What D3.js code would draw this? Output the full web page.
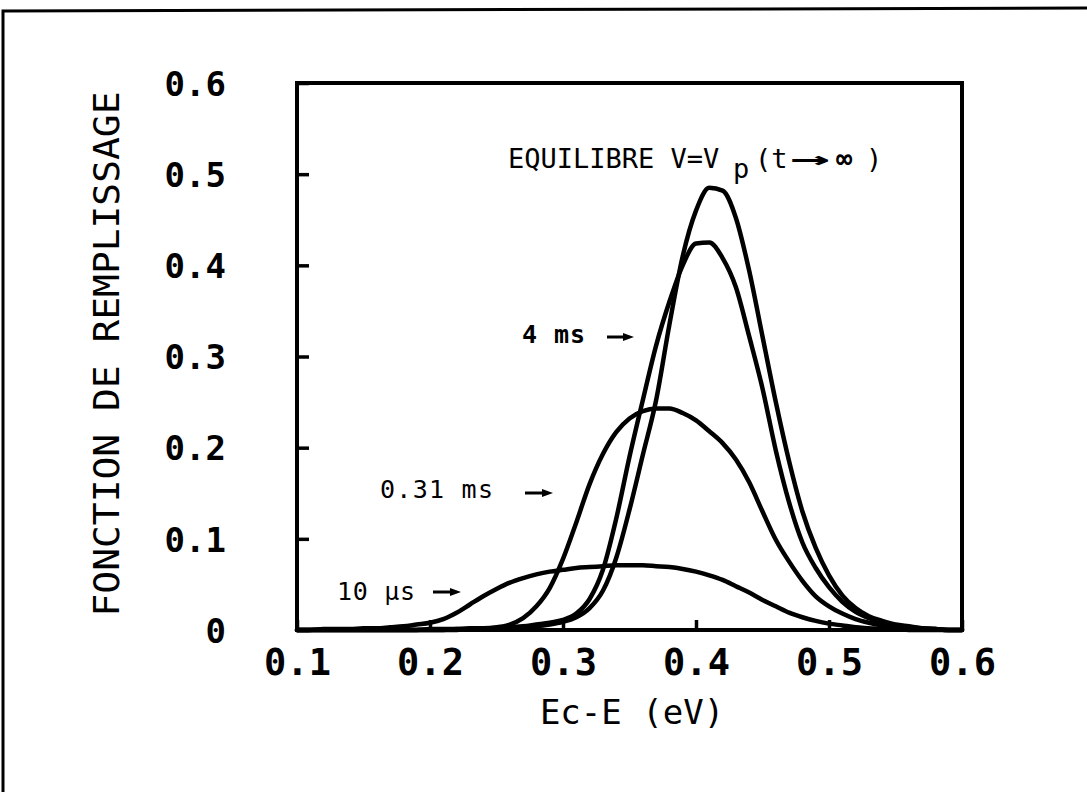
<!DOCTYPE html>
<html>
<head>
<meta charset="utf-8">
<script src="https://cdn.jsdelivr.net/npm/d3@7"></script>
<style>
  html, body { margin: 0; padding: 0; background: #fff; }
  svg { display: block; }
</style>
</head>
<body>
<svg id="chart" width="1087" height="792"></svg>
<script>
// Energy below the conduction band, Ec-E (eV)
const energy = [
  0.10,0.11,0.12,0.13,0.14,0.15,0.16,0.17,0.18,0.19,
  0.20,0.21,0.22,0.23,0.24,0.25,0.26,0.27,0.28,0.29,
  0.30,0.31,0.32,0.33,0.34,0.35,0.36,0.37,0.38,0.39,
  0.40,0.41,0.42,0.43,0.44,0.45,0.46,0.47,0.48,0.49,
  0.50,0.51,0.52,0.53,0.54,0.55,0.56,0.57,0.58,0.59,0.60
];

// Filling function after a 10 µs pulse
const fill10us = [
  0.000,0.000,0.001,0.001,0.001,0.002,0.002,0.003,0.004,0.006,
  0.008,0.012,0.019,0.028,0.037,0.045,0.052,0.057,0.061,0.064,
  0.066,0.068,0.069,0.070,0.071,0.071,0.071,0.070,0.069,0.067,
  0.064,0.060,0.055,0.048,0.041,0.033,0.026,0.019,0.014,0.010,
  0.007,0.005,0.003,0.002,0.001,0.001,0.000,0.000,0.000,0.000,0.000
];

// Filling function after 0.31 ms
const fill031ms = [
  0.000,0.000,0.000,0.000,0.000,0.000,0.000,0.000,0.000,0.000,
  0.001,0.001,0.001,0.002,0.002,0.003,0.006,0.013,0.026,0.046,
  0.078,0.118,0.160,0.193,0.217,0.232,0.240,0.243,0.243,0.238,
  0.230,0.218,0.205,0.187,0.162,0.130,0.099,0.075,0.054,0.037,
  0.026,0.018,0.012,0.008,0.005,0.003,0.002,0.001,0.001,0.000,0.000
];

// Filling function after 4 ms
const fill4ms = [
  0.000,0.000,0.000,0.000,0.000,0.000,0.000,0.000,0.000,0.000,
  0.000,0.000,0.001,0.001,0.001,0.002,0.003,0.004,0.006,0.008,
  0.011,0.018,0.034,0.066,0.122,0.190,0.252,0.312,0.360,0.400,
  0.424,0.425,0.408,0.376,0.322,0.265,0.197,0.140,0.096,0.068,
  0.047,0.031,0.020,0.013,0.008,0.005,0.003,0.002,0.001,0.000,0.000
];

// Equilibrium filling, V = Vp (t -> infinity)
const fillEquilibre = [
  0.000,0.000,0.000,0.000,0.000,0.000,0.000,0.000,0.000,0.000,
  0.000,0.000,0.000,0.001,0.001,0.001,0.002,0.003,0.004,0.006,
  0.009,0.014,0.024,0.043,0.079,0.132,0.192,0.252,0.335,0.410,
  0.460,0.485,0.482,0.452,0.394,0.322,0.250,0.185,0.130,0.090,
  0.060,0.038,0.024,0.015,0.010,0.006,0.004,0.002,0.001,0.000,0.000
];

const xTicks = [0.1, 0.2, 0.3, 0.4, 0.5, 0.6];
const xTickLabels = ["0.1", "0.2", "0.3", "0.4", "0.5", "0.6"];
const yTicks = [0, 0.1, 0.2, 0.3, 0.4, 0.5, 0.6];
const yTickLabels = ["0", "0.1", "0.2", "0.3", "0.4", "0.5", "0.6"];

const series = [fill10us, fill031ms, fill4ms, fillEquilibre];

const svg = d3.select("#chart");
const mono = "'DejaVu Sans Mono', 'Liberation Mono', monospace";

// page frame (left and top edges)
svg.append("path")
  .attr("d", "M3,792 L3,11 L1087,8")
  .attr("fill", "none")
  .attr("stroke", "#000")
  .attr("stroke-width", 3);

const x = d3.scaleLinear().domain([0.1, 0.6]).range([297, 962]);
const y = d3.scaleLinear().domain([0, 0.6]).range([630, 83]);

// axes with inward ticks
const gx = svg.append("g")
  .attr("transform", `translate(0,${y(0)})`)
  .call(d3.axisBottom(x)
    .tickValues(xTicks)
    .tickFormat((d, i) => xTickLabels[i])
    .tickSizeInner(-10)
    .tickSizeOuter(0)
    .tickPadding(14));
gx.select(".domain").remove();
gx.selectAll(".tick line").attr("stroke", "#000").attr("stroke-width", 3.5);
gx.selectAll(".tick text")
  .attr("y", 45)
  .attr("dy", null)
  .attr("fill", "#000")
  .style("font-family", mono)
  .style("font-weight", "bold")
  .style("font-size", "37px");

const gy = svg.append("g")
  .attr("transform", `translate(${x(0.1)},0)`)
  .call(d3.axisLeft(y)
    .tickValues(yTicks)
    .tickFormat((d, i) => yTickLabels[i])
    .tickSizeInner(-12)
    .tickSizeOuter(0)
    .tickPadding(71));
gy.select(".domain").remove();
gy.selectAll(".tick line").attr("stroke", "#000").attr("stroke-width", 3.5);
gy.selectAll(".tick text")
  .attr("fill", "#000")
  .attr("dy", "0.36em")
  .style("font-family", mono)
  .style("font-weight", "bold")
  .style("font-size", "34px");

// plot box
svg.append("rect")
  .attr("x", x(0.1)).attr("y", y(0.6))
  .attr("width", x(0.6) - x(0.1)).attr("height", y(0) - y(0.6))
  .attr("fill", "none")
  .attr("stroke", "#000")
  .attr("stroke-width", 4);

// curves
const line = d3.line()
  .x((d, i) => x(energy[i]))
  .y(d => y(d))
  .curve(d3.curveMonotoneX);

svg.selectAll("path.curve")
  .data(series)
  .join("path")
  .attr("class", "curve")
  .attr("d", line)
  .attr("fill", "none")
  .attr("stroke", "#000")
  .attr("stroke-width", 4.5)
  .attr("stroke-linejoin", "round")
  .attr("stroke-linecap", "round");

// axis titles
svg.append("text")
  .attr("x", 632).attr("y", 724)
  .attr("text-anchor", "middle")
  .attr("fill", "#000")
  .style("font-family", mono)
  .style("font-size", "34px")
  .style("font-weight", "500")
  .text("Ec-E (eV)");

svg.append("text")
  .attr("transform", "translate(119,354) rotate(-90)")
  .attr("text-anchor", "middle")
  .attr("fill", "#000")
  .attr("textLength", 525)
  .attr("lengthAdjust", "spacingAndGlyphs")
  .style("font-family", mono)
  .style("font-size", "36px")
  .text("FONCTION DE REMPLISSAGE");

// curve annotations
const eq = svg.append("text")
  .attr("fill", "#000")
  .style("font-family", mono)
  .style("font-size", "27px");
eq.append("tspan").attr("x", 508).attr("y", 168).text("EQUILIBRE V=V");
eq.append("tspan").attr("x", 733).attr("y", 178).text("p");
eq.append("tspan").attr("x", 755).attr("y", 168).text("(t");
eq.append("tspan").attr("x", 790).attr("y", 168)
  .attr("textLength", 40).attr("lengthAdjust", "spacingAndGlyphs")
  .style("font-weight", "bold").text("→");
eq.append("tspan").attr("x", 836).attr("y", 168).style("font-weight", "bold").text("∞");
eq.append("tspan").attr("x", 866).attr("y", 168).text(")");

const notes = [
  { text: "4 ms",    x: 522, y: 343, len: 63,  bold: true,  ax0: 607, ax1: 634, ay: 337 },
  { text: "0.31 ms", x: 380, y: 498, len: 113, bold: false, ax0: 525, ax1: 553, ay: 493 },
  { text: "10 µs",   x: 337, y: 600, len: 78,  bold: false, ax0: 433, ax1: 461, ay: 592 }
];

svg.selectAll("text.note")
  .data(notes)
  .join("text")
  .attr("class", "note")
  .attr("x", d => d.x).attr("y", d => d.y)
  .attr("textLength", d => d.len)
  .attr("lengthAdjust", "spacing")
  .attr("fill", "#000")
  .style("font-family", mono)
  .style("font-size", "25px")
  .style("font-weight", d => d.bold ? "bold" : "normal")
  .text(d => d.text);

svg.selectAll("path.pointer")
  .data(notes)
  .join("path")
  .attr("class", "pointer")
  .attr("d", d => `M${d.ax0},${d.ay} L${d.ax1 - 8},${d.ay}`)
  .attr("stroke", "#000")
  .attr("stroke-width", 3);

svg.selectAll("path.pointerhead")
  .data(notes)
  .join("path")
  .attr("class", "pointerhead")
  .attr("d", d => `M${d.ax1},${d.ay} L${d.ax1 - 11},${d.ay - 4} L${d.ax1 - 11},${d.ay + 4} Z`)
  .attr("fill", "#000");
</script>
</body>
</html>
